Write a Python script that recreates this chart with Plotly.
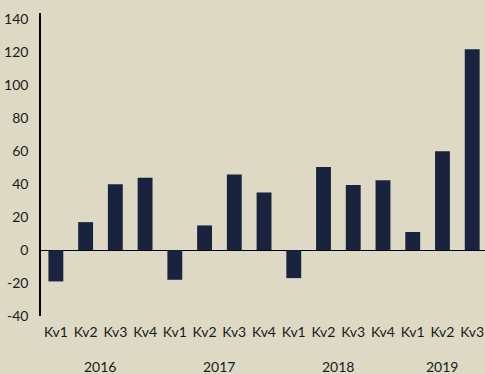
import plotly.graph_objects as go

quarters = ["Kv1", "Kv2", "Kv3", "Kv4",
            "Kv1", "Kv2", "Kv3", "Kv4",
            "Kv1", "Kv2", "Kv3", "Kv4",
            "Kv1", "Kv2", "Kv3"]
values = [-19, 17, 40, 44,
          -18, 15, 46, 35,
          -17, 50.5, 39.5, 42.5,
          11, 60, 122]
years = ["2016", "2017", "2018", "2019"]
year_quarter_count = [4, 4, 4, 3]
y_ticks = [-40, -20, 0, 20, 40, 60, 80, 100, 120, 140]
y_tick_labels = ["-40", "-20", "0", "20", "40", "60", "80", "100", "120", "140"]

BG = "#DDD9C4"
BAR = "#19233D"
FONT = "Lato"
TXT = "#1a1a1a"

x = list(range(len(values)))

fig = go.Figure()
fig.add_trace(go.Bar(x=x, y=values, marker=dict(color=BAR, line=dict(width=0)),
                     width=0.5, showlegend=False))

annotations = []
start = 0
for yr, n in zip(years, year_quarter_count):
    center = start + (n - 1) / 2
    annotations.append(dict(x=center, y=0, xref="x", yref="paper", text=yr,
                            showarrow=False, yanchor="middle", yshift=-50,
                            font=dict(family=FONT, size=14, color=TXT)))
    start += n

fig.update_layout(
    width=485, height=374,
    margin=dict(l=41, r=0, t=13, b=58),
    paper_bgcolor=BG, plot_bgcolor=BG,
    font=dict(family=FONT, size=14, color=TXT),
    bargap=0.5,
    annotations=annotations,
    xaxis=dict(tickmode="array", tickvals=x, ticktext=quarters,
               range=[-0.5, 14.43], showgrid=False, zeroline=False,
               showline=False, ticks="", ticklabelstandoff=6,
               tickfont=dict(family=FONT, size=14, color=TXT)),
    yaxis=dict(range=[-40, 144], tickmode="array",
               tickvals=y_ticks, ticktext=y_tick_labels,
               showgrid=False, zeroline=True, zerolinecolor="#000000",
               zerolinewidth=1, showline=True, linecolor="#000000",
               linewidth=1.5, ticks="", ticklabelstandoff=8,
               tickfont=dict(family=FONT, size=14, color=TXT)),
)

fig.write_html("out.html")
